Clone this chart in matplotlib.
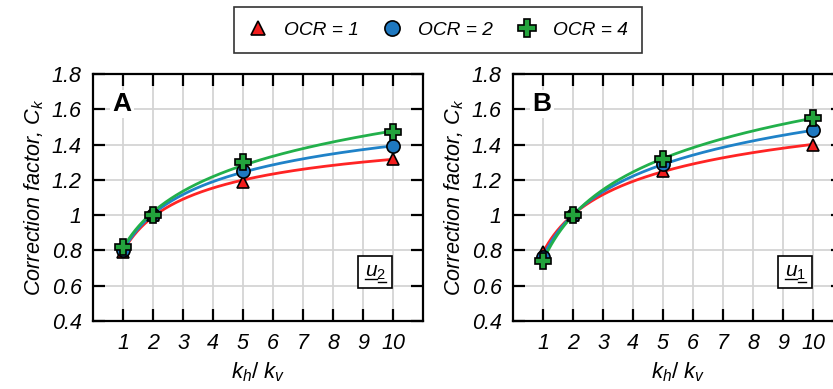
import numpy as np
import matplotlib
matplotlib.use("Agg")
import matplotlib.pyplot as plt
from matplotlib.lines import Line2D

plt.rcParams["font.family"] = ["Liberation Sans", "DejaVu Sans"]
plt.rcParams["mathtext.fontset"] = "custom"
plt.rcParams["mathtext.rm"] = "Liberation Sans"
plt.rcParams["mathtext.it"] = "Liberation Sans:italic"
plt.rcParams["mathtext.bf"] = "Liberation Sans:bold"

# permeability ratio kh/kv
k_ratio = [1, 2, 5, 10]

# correction factor Ck, panel A (u2)
ck_a_ocr1 = [0.79, 1.00, 1.19, 1.32]
ck_a_ocr2 = [0.80, 1.00, 1.25, 1.39]
ck_a_ocr4 = [0.82, 1.00, 1.30, 1.47]

# correction factor Ck, panel B (u1)
ck_b_ocr1 = [0.79, 1.00, 1.25, 1.40]
ck_b_ocr2 = [0.765, 1.00, 1.29, 1.48]
ck_b_ocr4 = [0.74, 1.00, 1.32, 1.55]

series_labels = ["OCR = 1", "OCR = 2", "OCR = 4"]
panel_letters = ["A", "B"]
panel_tags = [r"$u_2$", r"$u_1$"]
x_ticks = list(range(1, 11))
y_ticks = [0.4, 0.6, 0.8, 1.0, 1.2, 1.4, 1.6, 1.8]
y_tick_labels = ["0.4", "0.6", "0.8", "1", "1.2", "1.4", "1.6", "1.8"]

line_colors = ["#ff2424", "#1f82c8", "#22b04b"]
face_colors = ["#f21d1d", "#1e78c0", "#23a33c"]
markers = ["^", "o", "P"]
marker_sizes = [9, 9.5, 11]

W, H = 833, 389
fig = plt.figure(figsize=(W / 100, H / 100), dpi=100)

axes_px = [(93, 74, 330, 247), (513, 74, 330, 247)]
panels = [
    [ck_a_ocr1, ck_a_ocr2, ck_a_ocr4],
    [ck_b_ocr1, ck_b_ocr2, ck_b_ocr4],
]

handles = []
tag_texts = []
for p, (x0, y0, w, h) in enumerate(axes_px):
    ax = fig.add_axes([x0 / W, (H - y0 - h) / H, w / W, h / H])
    ax.set_xlim(0, 11)
    ax.set_ylim(0.4, 1.8)
    ax.set_xticks(x_ticks)
    ax.set_xticklabels([str(t) for t in x_ticks], fontstyle="italic", fontsize=15.5)
    ax.set_yticks(y_ticks)
    ax.set_yticklabels(y_tick_labels, fontstyle="italic", fontsize=15.5)
    ax.grid(True, color="#d4d4d4", linewidth=1.3)
    ax.set_axisbelow(True)
    ax.tick_params(direction="in", length=8.5, width=1.6, top=True, right=True,
                   colors="black")
    ax.tick_params(axis="y", pad=8)
    ax.tick_params(axis="x", pad=8.5)
    for s in ax.spines.values():
        s.set_linewidth(1.6)

    xs = np.asarray(k_ratio, dtype=float)
    xfine = np.linspace(1, 10, 300)
    # smooth fitted curves (quadratic in log kh/kv)
    for i, ys in enumerate(panels[p]):
        coef = np.polyfit(np.log(xs), ys, 2)
        ax.plot(xfine, np.polyval(coef, np.log(xfine)), color=line_colors[i],
                linewidth=2.0, zorder=3)
    for i, ys in enumerate(panels[p]):
        hnd, = ax.plot(k_ratio, ys, linestyle="none", marker=markers[i],
                       markersize=marker_sizes[i], markerfacecolor=face_colors[i],
                       markeredgecolor="black", markeredgewidth=1.2,
                       zorder=4 + i, clip_on=False, label=series_labels[i])
        if p == 0:
            handles.append(hnd)

    ax.set_ylabel(r"Correction factor, $C_k$", fontstyle="italic", fontsize=15.6,
                  labelpad=4)
    ax.set_xlabel(r"$k_h$/ $k_v$", fontsize=16, labelpad=4.5)
    ax.text(0.088, 0.88, panel_letters[p], transform=ax.transAxes, fontsize=19,
            fontweight="bold", ha="center", va="center",
            bbox=dict(facecolor="white", edgecolor="none", pad=1.5), zorder=10)
    t = ax.text(0.855, 0.198, panel_tags[p], transform=ax.transAxes, fontsize=15,
                ha="center", va="center",
                bbox=dict(facecolor="white", edgecolor="black", linewidth=1.2,
                          boxstyle="square,pad=0.3"), zorder=10)
    tag_texts.append(t)

leg = fig.legend(handles=handles, loc="center", bbox_to_anchor=(438 / W, 1 - 30 / H),
                 ncol=3, frameon=True, fancybox=False, edgecolor="black",
                 prop={"style": "italic", "size": 13.8}, markerscale=1.15,
                 handlelength=1.0, handletextpad=0.85, columnspacing=1.27,
                 borderpad=0.72)
leg.get_frame().set_linewidth(1.2)

# underline the panel tags (main letter and its subscript)
fig.canvas.draw()
renderer = fig.canvas.get_renderer()
for t in tag_texts:
    bb = t.get_window_extent(renderer)
    split = bb.x0 + 0.6 * bb.width
    for (xa, xb, yy) in [(bb.x0, split - 0.5, bb.y0 + 3.0), (split + 0.5, bb.x1, bb.y0 - 0.5)]:
        fig.add_artist(Line2D([xa / W, xb / W], [yy / H, yy / H], color="black",
                              linewidth=1.0, transform=fig.transFigure, zorder=20))

fig.savefig("out.png", dpi=100)
